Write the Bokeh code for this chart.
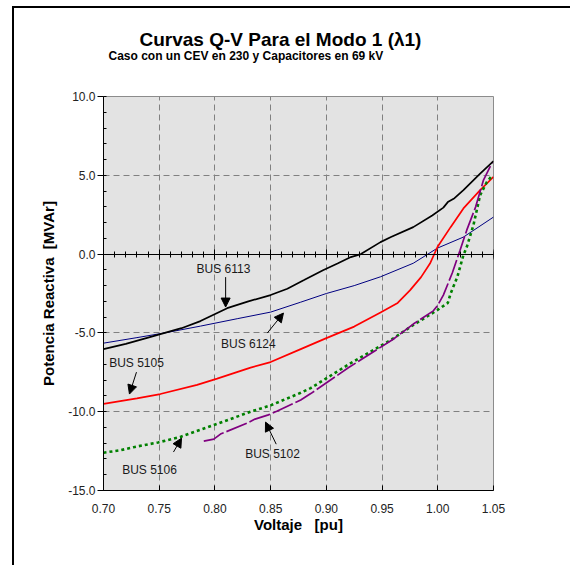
import numpy as np
from bokeh.plotting import figure
from bokeh.models import (Range1d, LinearAxis, Title, Arrow, NormalHead,
                          FixedTicker, ColumnDataSource, NumeralTickFormatter)
from bokeh.core.properties import value
from bokeh.embed import file_html
from bokeh.resources import INLINE

FONT = "Liberation Sans"

# Q-V curves (voltage in pu, reactive power in MVAr)
v_6113 = [0.70, 0.72, 0.74, 0.751, 0.77, 0.787, 0.811, 0.83, 0.85, 0.865, 0.880, 0.897,
          0.91, 0.922, 0.931, 0.9486, 0.958, 0.978, 0.995, 1.005, 1.009, 1.015, 1.023, 1.038, 1.05]
q_6113 = [-6.03, -5.7, -5.3, -5.08, -4.7, -4.25, -3.43, -3.0, -2.6, -2.2, -1.65, -1.02,
          -0.6, -0.19, 0.0, 0.76, 1.08, 1.71, 2.45, 2.95, 3.3, 3.55, 4.06, 5.1, 5.9]

v_6124 = [0.70, 0.73, 0.755, 0.787, 0.82, 0.85, 0.877, 0.90, 0.925, 0.9486, 0.978, 0.9997, 1.023, 1.05]
q_6124 = [-5.65, -5.3, -5.0, -4.57, -4.1, -3.68, -3.05, -2.5, -2.0, -1.44, -0.58, 0.38, 1.08, 2.35]

v_5105 = [0.70, 0.73, 0.751, 0.784, 0.802, 0.832, 0.85, 0.877, 0.90, 0.925, 0.9486, 0.964,
          0.975, 0.985, 0.993, 0.9997, 1.0115, 1.023, 1.038, 1.05]
q_5105 = [-9.5, -9.15, -8.88, -8.3, -7.9, -7.2, -6.85, -6.03, -5.33, -4.6, -3.7, -3.1,
          -2.3, -1.46, -0.6, 0.45, 1.71, 2.9, 4.06, 4.9]

v_5106 = [0.70, 0.715, 0.727, 0.749, 0.769, 0.799, 0.832, 0.85, 0.877, 0.886, 0.92, 0.959, 0.978,
          0.9997, 1.009, 1.0115, 1.0175, 1.023, 1.026, 1.032, 1.038, 1.044, 1.049]
q_5106 = [-12.6, -12.45, -12.25, -11.95, -11.6, -10.85, -10.0, -9.6, -8.8, -8.5, -7.0, -5.4, -4.5,
          -3.55, -3.1, -2.5, -1.46, -0.06, 0.45, 1.84, 3.74, 4.57, 5.0]

v_5102 = [0.79, 0.799, 0.805, 0.829, 0.836, 0.848, 0.856, 0.877, 0.886, 0.92, 0.960, 0.978,
          0.996, 1.0, 1.005, 1.013, 1.02, 1.026, 1.034, 1.041, 1.049]
q_5102 = [-11.87, -11.74, -11.42, -10.72, -10.47, -10.2, -9.96, -9.26, -8.85, -7.2, -5.4, -4.44,
          -3.6, -3.24, -2.6, -1.2, 0.25, 1.52, 3.0, 4.7, 5.84]

# bus labels and their pointer arrows
label_text = ["BUS 6113", "BUS 6124", "BUS 5105", "BUS 5106", "BUS 5102"]
label_x = [0.8077, 0.830, 0.7296, 0.7413, 0.8517]
label_y = [-0.95, -5.71, -6.92, -13.7, -12.69]
arrow_x0 = [0.8096, 0.847, 0.7296, 0.7628, 0.855]
arrow_y0 = [-1.46, -5.01, -7.49, -12.56, -12.06]
arrow_x1 = [0.8096, 0.8615, 0.7233, 0.770, 0.8454]
arrow_y1 = [-3.36, -3.74, -8.88, -11.68, -10.66]

x_ticks = [0.70, 0.75, 0.80, 0.85, 0.90, 0.95, 1.00, 1.05]
x_minor = [round(0.70 + 0.01 * i, 2) for i in range(36)]
y_ticks = [-15, -10, -5, 0, 5, 10]

p = figure(width=570, height=565,
           x_range=Range1d(0.70, 1.05), y_range=Range1d(-15, 10),
           output_backend="svg", toolbar_location=None,
           min_border_left=103, min_border_right=77,
           min_border_top=96, min_border_bottom=75)

p.background_fill_color = "#e3e3e3"
# transparent canvas border so the page frame painted behind it shows through
p.border_fill_alpha = 0
p.styles = {
    "background-color": "white",
    "background-image": "linear-gradient(black, black), linear-gradient(black, black)",
    "background-size": "558px 2px, 2px 559px",
    "background-position": "12px 6px, 12px 6px",
    "background-repeat": "no-repeat",
}
p.outline_line_color = "#8c8c8c"
p.outline_line_width = 1

# grid
p.xgrid.ticker = FixedTicker(ticks=x_ticks[1:-1])
p.ygrid.ticker = FixedTicker(ticks=[5, -5, -10])
for g in (p.xgrid, p.ygrid):
    g.grid_line_color = "#808080"
    g.grid_line_dash = "6 4"
    g.grid_line_width = 1

# bottom axis
xa = p.xaxis[0]
xa.ticker = FixedTicker(ticks=x_ticks)
xa.formatter = NumeralTickFormatter(format="0.00")
xa.axis_label = "Voltaje\u00a0\u00a0\u00a0[pu]"
xa.major_tick_in = 5
xa.major_tick_out = 0
xa.major_label_standoff = 13
xa.axis_label_standoff = 0

# left axis
ya = p.yaxis[0]
ya.ticker = FixedTicker(ticks=y_ticks, minor_ticks=list(range(-15, 11)))
ya.formatter = NumeralTickFormatter(format="0.0")
ya.axis_label = "Potencia Reactiva\u00a0\u00a0[MVAr]"
ya.major_tick_in = 0
ya.major_tick_out = 6
ya.minor_tick_in = 3
ya.minor_tick_out = 0
ya.major_label_standoff = 2
ya.axis_label_standoff = 8

for ax in (xa, ya):
    ax.axis_line_color = "black"
    ax.major_tick_line_color = "black"
    ax.minor_tick_line_color = "black" if ax is ya else None
    ax.major_label_text_font = FONT
    ax.major_label_text_font_size = "12px"
    ax.major_label_text_color = "#222222"
    ax.axis_label_text_font = FONT
    ax.axis_label_text_font_size = "15px"
    ax.axis_label_text_font_style = "bold"
    ax.axis_label_text_color = "black"

# axis line through Q = 0, ticked every 0.01 pu and every 0.05 pu
for tick_vals, tick_len in ((x_minor, 3), (x_ticks, 5)):
    p.add_layout(LinearAxis(fixed_location=0,
                            ticker=FixedTicker(ticks=[], minor_ticks=tick_vals),
                            major_tick_line_color=None,
                            minor_tick_in=tick_len, minor_tick_out=tick_len,
                            axis_line_color="black",
                            minor_tick_line_color="black"), "below")

# curves
p.line(v_6124, q_6124, line_color="#000080", line_width=1)
p.line(v_5105, q_5105, line_color="#ff0000", line_width=1.7)
p.line(v_5106, q_5106, line_color="#008000", line_width=2.6, line_dash="3 3")
p.line(v_5102, q_5102, line_color="#800080", line_width=1.7, line_dash="22 3")
p.line(v_6113, q_6113, line_color="black", line_width=1.7)

# labels with arrows
lab_src = ColumnDataSource(dict(x=label_x, y=label_y, t=label_text))
p.text(x="x", y="y", text="t", source=lab_src, text_align="center", text_baseline="middle",
       text_font=value(FONT), text_font_size="12px", text_color="#1a1a1a")
arr_src = ColumnDataSource(dict(x0=arrow_x0, y0=arrow_y0, x1=arrow_x1, y1=arrow_y1))
p.add_layout(Arrow(x_start="x0", y_start="y0", x_end="x1", y_end="y1", source=arr_src,
                   line_color="black", line_width=1,
                   end=NormalHead(size=9, fill_color="black", line_color="black")))

# titles
p.add_layout(Title(text="Caso con un CEV en 230 y Capacitores en 69 kV", align="left", offset=5,
                   standoff=67, text_font=FONT, text_font_size="12px",
                   text_font_style="bold", text_color="black"), "above")
p.add_layout(Title(text="Curvas Q-V Para el Modo 1 (\u03bb1)", align="left", offset=36,
                   standoff=-73, text_font=FONT, text_font_size="19px",
                   text_font_style="bold", text_color="black"), "above")

open("out.html", "w").write(file_html(p, INLINE))
